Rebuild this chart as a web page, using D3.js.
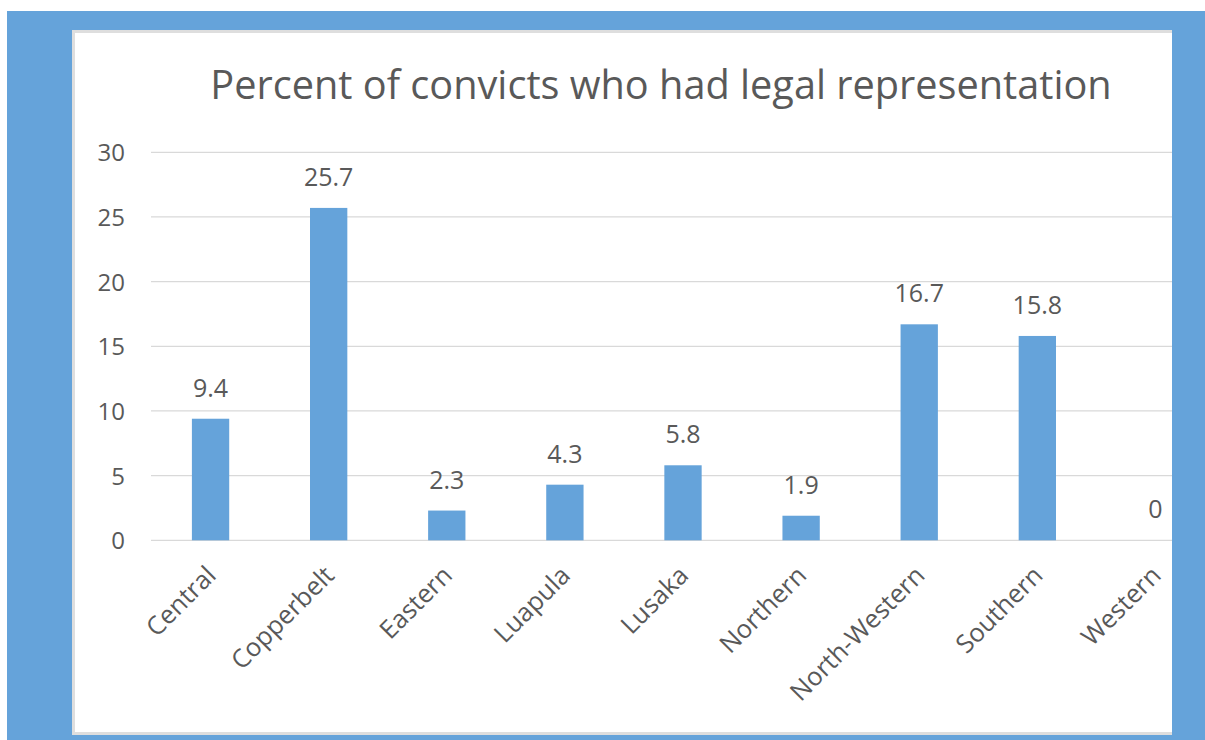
<!DOCTYPE html>
<html>
<head>
<meta charset="utf-8">
<script src="https://cdn.jsdelivr.net/npm/d3@7"></script>
<style>
  html, body { margin: 0; padding: 0; background: #ffffff; }
  svg { display: block; }
  text { font-family: "Open Sans", "Noto Sans", sans-serif; fill: #595959; }
</style>
</head>
<body>
<svg id="chart" width="1205" height="740"></svg>
<script>
// Zambia provinces: share of convicts with legal representation (%)
const provinces = ["Central", "Copperbelt", "Eastern", "Luapula", "Lusaka",
                   "Northern", "North-Western", "Southern", "Western"];
const percentRepresented = [9.4, 25.7, 2.3, 4.3, 5.8, 1.9, 16.7, 15.8, 0];
const yTicks = [0, 5, 10, 15, 20, 25, 30];
const chartTitle = "Percent of convicts who had legal representation";

const W = 1205, H = 740;
const blue = "#65a3da";
const svg = d3.select("#chart");

// Outer frame
svg.append("rect").attr("x", 7).attr("y", 11).attr("width", W - 7).attr("height", H - 11)
  .attr("fill", blue);

// Chart panel, cut off on its right side
const panel = { x0: 72, y0: 30, x1: 1172, y1: 735 };
svg.append("defs").append("clipPath").attr("id", "panelClip")
  .append("rect").attr("x", panel.x0).attr("y", panel.y0)
  .attr("width", panel.x1 - panel.x0).attr("height", panel.y1 - panel.y0);

const g = svg.append("g").attr("clip-path", "url(#panelClip)");
g.append("rect")
  .attr("x", panel.x0 + 1.5).attr("y", panel.y0 + 1.5)
  .attr("width", 1300).attr("height", panel.y1 - panel.y0 - 3)
  .attr("fill", "#ffffff").attr("stroke", "#dedede").attr("stroke-width", 3);

// Scales
const x = d3.scaleBand().domain(provinces).range([151.5, 1214.5])
  .paddingInner(0.684).paddingOuter(0.342);
const y = d3.scaleLinear().domain([0, 30]).range([540.3, 152.3]);

// Gridlines
g.append("g").selectAll("line").data(yTicks).join("line")
  .attr("x1", 151).attr("x2", 1300)
  .attr("y1", d => y(d)).attr("y2", d => y(d))
  .attr("stroke", "#d9d9d9").attr("stroke-width", 1.3);

// Y axis labels
const yAxis = d3.axisLeft(y).tickValues(yTicks).tickSize(0).tickPadding(0);
const ya = g.append("g").attr("transform", "translate(125,0)").call(yAxis);
ya.select(".domain").remove();
ya.selectAll("text").style("font-size", "24px").attr("fill", "#595959")
  .style("font-family", "'Open Sans', sans-serif").attr("dy", "0.36em");

// Bars
g.append("g").selectAll("rect").data(provinces).join("rect")
  .attr("x", d => x(d)).attr("width", x.bandwidth())
  .attr("y", (d, i) => y(percentRepresented[i]))
  .attr("height", (d, i) => y(0) - y(percentRepresented[i]))
  .attr("fill", blue);

// Value labels
g.append("g").selectAll("text").data(provinces).join("text")
  .attr("x", d => x(d) + x.bandwidth() / 2)
  .attr("y", (d, i) => y(percentRepresented[i]) - 22)
  .attr("text-anchor", "middle").style("font-size", "25px")
  .text((d, i) => percentRepresented[i]);

// Category labels, rotated
const xAxis = d3.axisBottom(x).tickSize(0).tickPadding(0);
const xa = g.append("g").attr("transform", "translate(0,577)").call(xAxis);
xa.select(".domain").remove();
xa.selectAll("text")
  .style("font-size", "25.5px").style("font-family", "'Open Sans', sans-serif")
  .attr("fill", "#595959")
  .attr("text-anchor", "end").attr("dy", "0")
  .attr("transform", "translate(7,0) rotate(-45)");

// Title
g.append("text").attr("x", 661).attr("y", 99).attr("text-anchor", "middle")
  .style("font-size", "39.7px").text(chartTitle);
</script>
</body>
</html>
